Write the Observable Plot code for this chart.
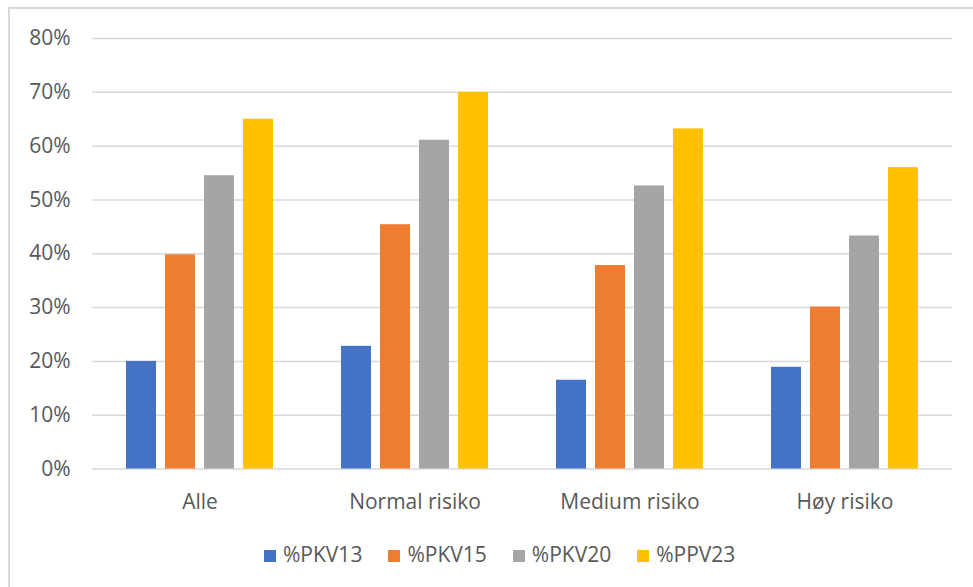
<!DOCTYPE html>
<html>
<head>
<meta charset="utf-8">
<script src="https://cdn.jsdelivr.net/npm/d3@7"></script>
<script src="https://cdn.jsdelivr.net/npm/@observablehq/plot@0.6"></script>
<style>
  html, body { margin: 0; padding: 0; background: #fff; width: 973px; height: 587px; overflow: hidden; }
  #frame { position: absolute; left: 8px; top: 7px; width: 1200px; height: 1200px; border: 2px solid #d9d9d9; box-sizing: border-box; }
  #chart { position: absolute; left: 0; top: 0; }
  #legend { position: absolute; left: 264px; top: 542px; display: flex; gap: 26px;
            font-family: "Open Sans", sans-serif; font-size: 21px; line-height: 24px; color: #595959; white-space: nowrap; }
  #legend .sw { display: inline-block; width: 12px; height: 12px; margin-right: 7px; }
</style>
</head>
<body>
<div id="frame"></div>
<div id="chart"></div>
<div id="legend"></div>
<script>
// Vaccine coverage by risk group
const categories = ["Alle", "Normal risiko", "Medium risiko", "Høy risiko"];
const series = ["%PKV13", "%PKV15", "%PKV20", "%PPV23"];
const pkv13 = [0.200, 0.228, 0.165, 0.189];
const pkv15 = [0.398, 0.454, 0.378, 0.301];
const pkv20 = [0.545, 0.611, 0.526, 0.433];
const ppv23 = [0.650, 0.700, 0.632, 0.560];
const colors = ["#4472c4", "#ed7d31", "#a5a5a5", "#ffc000"];
const yTicks = [0, 0.1, 0.2, 0.3, 0.4, 0.5, 0.6, 0.7, 0.8];

const seriesValues = [pkv13, pkv15, pkv20, ppv23];
const rows = [];
categories.forEach((c, i) => {
  series.forEach((s, j) => rows.push({category: c, series: s, value: seriesValues[j][i]}));
});

const chart = Plot.plot({
  width: 973,
  height: 530,
  marginLeft: 91,
  marginRight: 20,
  marginTop: 38,
  marginBottom: 61.5,
  style: {fontFamily: "Open Sans, sans-serif", fontSize: "21px", color: "#595959", background: "transparent"},
  fx: {domain: categories, padding: 0, label: null, tickSize: 0, tickPadding: 25},
  x: {domain: series, axis: null, paddingInner: 0.226, paddingOuter: 0.863},
  y: {domain: [0, 0.8], ticks: yTicks, tickSize: 0, tickPadding: 22, label: null,
      tickFormat: d => Math.round(d * 100) + "%"},
  color: {domain: series, range: colors},
  marks: [
    Plot.ruleY(yTicks, {stroke: "#d9d9d9", strokeWidth: 1.5}),
    Plot.barY(rows, {fx: "category", x: "series", y: "value", fill: "series"})
  ]
});
document.getElementById("chart").appendChild(chart);

const legend = document.getElementById("legend");
series.forEach((s, j) => {
  const item = document.createElement("span");
  const sw = document.createElement("span");
  sw.className = "sw";
  sw.style.background = colors[j];
  item.appendChild(sw);
  item.appendChild(document.createTextNode(s));
  legend.appendChild(item);
});
</script>
</body>
</html>
